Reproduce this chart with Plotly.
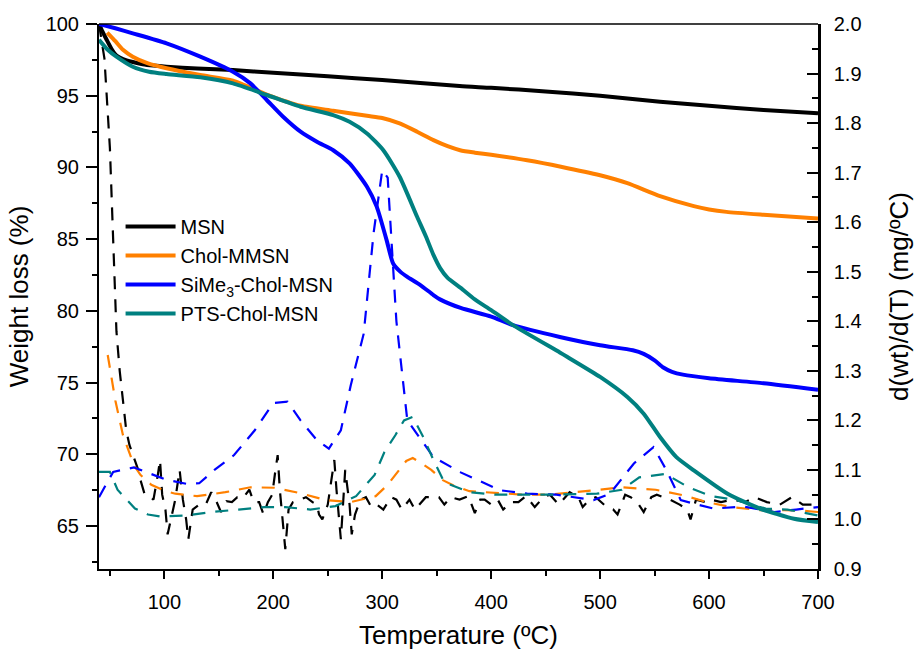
import plotly.graph_objects as go

# ---------------- data ----------------
# TGA curves (left axis, Weight loss %)
t_msn = [40, 43, 47, 52, 56, 62, 71, 80, 90, 102, 130, 163, 200, 250, 300, 371, 400, 450, 500, 555, 600, 650, 700]
w_msn = [100, 99.5, 98.9, 98.2, 97.8, 97.55, 97.35, 97.2, 97.1, 97.02, 96.9, 96.79, 96.6, 96.35, 96.1, 95.67,
         95.55, 95.3, 95.0, 94.58, 94.3, 94.0, 93.77]

t_chol = [47.5, 55, 62, 71, 85, 102, 133, 163, 194, 225, 255, 286, 300, 316, 332, 347, 360, 371.5, 385, 400, 433,
          464, 500, 525, 555, 586, 600, 616, 650, 700]
w_chol = [99.4, 98.8, 98.2, 97.72, 97.25, 96.91, 96.44, 96.05, 95.08, 94.3, 93.95, 93.6, 93.45, 93.07, 92.49,
          91.9, 91.48, 91.2, 91.03, 90.88, 90.5, 90.05, 89.45, 88.9, 88.0, 87.3, 87.07, 86.9, 86.7, 86.44]

t_sime = [40, 55, 71, 102, 133, 163, 179, 194, 209, 225, 240, 255, 270, 286, 295, 304, 310, 317, 323, 335, 347,
          353, 372, 400, 420, 463, 500, 530, 540, 550, 558, 566, 576, 600, 650, 700]
w_sime = [100, 99.7, 99.35, 98.65, 97.72, 96.67, 95.86, 94.7, 93.53, 92.49, 91.79, 91.2, 90.28, 88.65, 87.25,
          84.93, 83.3, 82.7, 82.37, 81.8, 81.1, 80.8, 80.2, 79.6, 79.0, 78.18, 77.6, 77.25, 77.0, 76.55, 76.05,
          75.75, 75.55, 75.3, 74.95, 74.5]

t_pts = [40, 48, 56, 71, 86, 102, 133, 163, 194, 225, 255, 270, 286, 301, 316, 332, 340, 347, 353, 360, 372, 385,
         400, 420, 463, 470, 500, 525, 540, 555, 570, 586, 617, 647, 678, 700]
w_pts = [98.9, 98.2, 97.72, 97.02, 96.67, 96.51, 96.28, 95.86, 95.05, 94.23, 93.65, 93.18, 92.37, 91.2, 89.35,
         86.56, 85.2, 83.9, 83.0, 82.3, 81.6, 80.8, 80.05, 79.0, 77.1, 76.78, 75.39, 73.99, 72.83, 71.2, 69.8,
         68.88, 67.25, 66.2, 65.5, 65.27]

# DTG curves (right axis, d(wt)/d(T))
dt_msn = [40, 45, 50, 54, 56, 59, 62, 65, 68, 72, 76, 78, 82, 86, 90, 94, 96, 98, 101, 103, 106, 110, 114, 117,
          120, 122, 126, 132, 138, 143, 148, 152, 157, 162, 167, 172, 178, 182, 187, 191, 195, 199, 202, 204, 206,
          209, 211, 214, 218, 225, 230, 236, 240, 242, 245, 250, 256, 258, 260, 262, 266, 270, 272, 275, 280, 285,
          290, 295, 301, 308, 313, 318, 325, 330, 340, 346, 352, 357, 363, 371, 379, 385, 390, 394, 400, 406, 411,
          418, 425, 432, 440, 448, 454, 462, 472, 480, 484, 490, 496, 506, 512, 516, 523, 528, 534, 540, 547, 552,
          558, 564, 573, 580, 583, 588, 597, 602, 611, 621, 633, 642, 653, 665, 676, 686, 697, 700]
d_msn = [2.0, 1.93, 1.75, 1.5, 1.38, 1.3, 1.24, 1.18, 1.15, 1.125, 1.1, 1.08, 1.05, 1.048, 1.04, 1.09, 1.12,
         1.05, 1.02, 0.97, 1.0, 1.04, 1.10, 1.04, 1.0, 0.96, 1.02, 1.03, 1.03, 1.055, 1.035, 1.015, 1.037, 1.035,
         1.045, 1.043, 1.06, 1.035, 1.035, 1.01, 1.035, 1.05, 1.10, 1.13, 1.06, 0.98, 0.94, 1.02, 1.035, 1.04,
         1.045, 1.035, 1.03, 1.01, 1.0, 1.03, 1.12, 1.06, 1.0, 0.96, 1.1, 1.03, 0.97, 1.01, 1.04, 1.045, 1.025,
         1.03, 1.02, 1.045, 1.04, 1.02, 1.04, 1.02, 1.045, 1.045, 1.045, 1.03, 1.045, 1.04, 1.047, 1.013, 1.04,
         1.04, 1.03, 1.04, 1.02, 1.035, 1.035, 1.047, 1.025, 1.045, 1.05, 1.03, 1.055, 1.045, 1.025, 1.04, 1.045,
         1.025, 1.02, 1.01, 1.05, 1.045, 1.035, 1.015, 1.045, 1.05, 1.045, 1.04, 1.03, 1.02, 1.0, 1.04, 1.035,
         1.04, 1.035, 1.04, 1.035, 1.045, 1.035, 1.03, 1.045, 1.03, 1.03, 1.03]

dt_chol = [48, 55, 62, 66, 72, 78, 88, 100, 110, 130, 156, 179, 201, 225, 248, 271, 294, 305, 313, 322, 328,
           335, 345, 355, 365, 380, 430, 452, 496, 520, 551, 576, 598, 620, 646, 669, 690, 700]
d_chol = [1.332, 1.24, 1.17, 1.146, 1.11, 1.09, 1.07, 1.058, 1.052, 1.047, 1.055, 1.065, 1.064, 1.053, 1.039,
          1.035, 1.047, 1.07, 1.093, 1.118, 1.124, 1.115, 1.10, 1.08, 1.069, 1.057, 1.05, 1.05, 1.059, 1.065,
          1.06, 1.049, 1.035, 1.025, 1.019, 1.019, 1.017, 1.015]

dt_sime = [40, 53, 72, 90, 102, 120, 132, 146, 164, 183, 200, 213, 225, 240, 251, 262, 271, 283, 292, 300, 305,
           309, 313, 323, 347, 372, 408, 433, 460, 494, 509, 531, 549, 561, 574, 586, 604, 632, 660, 680, 700]
d_sime = [1.045, 1.096, 1.105, 1.09, 1.08, 1.072, 1.073, 1.10, 1.13, 1.18, 1.235, 1.238, 1.2, 1.16, 1.143,
          1.18, 1.27, 1.375, 1.577, 1.705, 1.69, 1.544, 1.40, 1.2, 1.126, 1.095, 1.059, 1.052, 1.05, 1.039, 1.052,
          1.113, 1.146, 1.099, 1.039, 1.032, 1.022, 1.026, 1.015, 1.02, 1.025]

dt_pts = [40, 50, 57, 73, 85, 96, 120, 143, 168, 192, 211, 234, 257, 276, 293, 302, 312, 320, 328, 338, 347,
          357, 380, 404, 450, 497, 520, 536, 560, 581, 602, 625, 652, 672, 700]
d_pts = [1.096, 1.096, 1.06, 1.022, 1.01, 1.006, 1.008, 1.015, 1.02, 1.025, 1.025, 1.02, 1.027, 1.047, 1.09,
         1.136, 1.17, 1.2, 1.207, 1.165, 1.12, 1.075, 1.055, 1.05, 1.05, 1.052, 1.06, 1.085, 1.092, 1.065,
         1.047, 1.039, 1.022, 1.02, 1.008]

x_ticks = [100, 200, 300, 400, 500, 600, 700]

names = ["MSN", "Chol-MMSN", "SiMe<sub>3</sub>-Chol-MSN", "PTS-Chol-MSN"]
colors = ["#000000", "#FF8000", "#0000FF", "#008080"]

FONT = "Arial, 'Liberation Sans', sans-serif"

fig = go.Figure()

# DTG dashed curves on the right axis (drawn first, below)
for tx, dy, c in [(dt_msn, d_msn, colors[0]), (dt_chol, d_chol, colors[1]),
                  (dt_sime, d_sime, colors[2]), (dt_pts, d_pts, colors[3])]:
    fig.add_trace(go.Scatter(x=tx, y=dy, mode="lines", yaxis="y", showlegend=False,
                             line=dict(color=c, width=2.2, dash="13px,10px"), hoverinfo="skip"))

# TGA solid curves on the left axis (drawn on top)
for tx, wy, c, n in [(t_msn, w_msn, colors[0], names[0]), (t_chol, w_chol, colors[1], names[1]),
                     (t_sime, w_sime, colors[2], names[2]), (t_pts, w_pts, colors[3], names[3])]:
    fig.add_trace(go.Scatter(x=tx, y=wy, mode="lines", yaxis="y2", name=n,
                             line=dict(color=c, width=4, shape="spline", smoothing=0.6)))

fig.update_layout(
    width=919, height=650,
    margin=dict(l=99, r=101, t=24, b=81, autoexpand=False),
    paper_bgcolor="white", plot_bgcolor="white",
    font=dict(family=FONT, size=20, color="black"),
    showlegend=True,
    legend=dict(x=0.03, y=0.664, xanchor="left", yanchor="top",
                bgcolor="rgba(0,0,0,0)", font=dict(size=20, family=FONT),
                itemwidth=50, tracegroupgap=0),
    xaxis=dict(range=[40, 700], tickvals=x_ticks, showgrid=False, zeroline=False, automargin=False,
               showline=True, linewidth=2, linecolor="black",
               ticks="outside", ticklen=8, tickwidth=2, tickcolor="black",
               minor=dict(dtick=50, tick0=0, ticks="outside", ticklen=5, tickwidth=2, tickcolor="black"),
               tickfont=dict(size=20), ticklabelstandoff=6,
               title=dict(text="Temperature (ºC)", font=dict(size=26), standoff=18)),
    yaxis=dict(range=[0.9, 2.0], dtick=0.1, tick0=0, tickformat=".1f", side="right", automargin=False,
               showgrid=False, zeroline=False, showline=True, linewidth=2.5, linecolor="black",
               ticks="inside", ticklen=11, tickwidth=2, tickcolor="black",
               minor=dict(dtick=0.05, ticks="inside", ticklen=6, tickwidth=2, tickcolor="black"),
               tickfont=dict(size=20), ticklabelstandoff=9,
               title=dict(text="d(wt)/d(T) (mg/ºC)", font=dict(size=26), standoff=30)),
    yaxis2=dict(range=[62, 100], dtick=5, tick0=0, overlaying="y", side="left", automargin=False,
                showgrid=False, zeroline=False, showline=True, linewidth=2, linecolor="black",
                ticks="outside", ticklen=11, tickwidth=2, tickcolor="black",
                minor=dict(dtick=2.5, tick0=0, ticks="outside", ticklen=5, tickwidth=2, tickcolor="black"),
                tickfont=dict(size=20), ticklabelstandoff=3,
                title=dict(text="Weight loss (%)", font=dict(size=26), standoff=10)),
    shapes=[dict(type="line", xref="paper", yref="paper", x0=0, x1=1, y0=1, y1=1,
                 line=dict(color="black", width=1.5))],
)

fig.write_html("out.html")
